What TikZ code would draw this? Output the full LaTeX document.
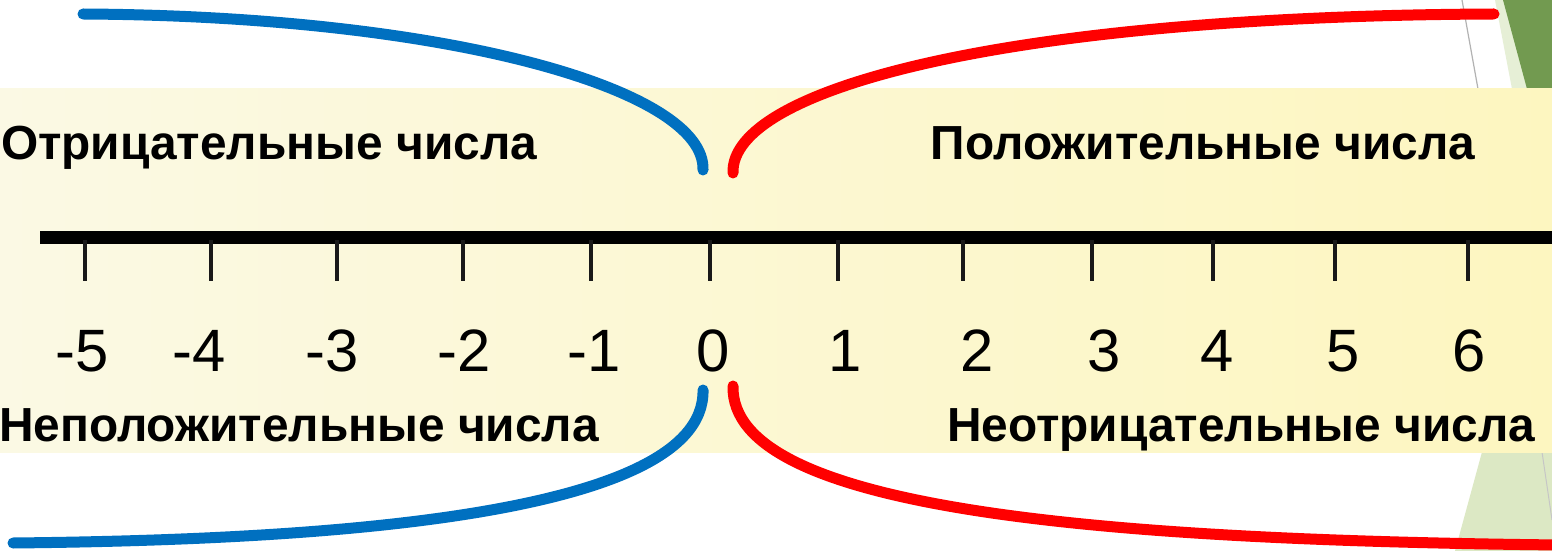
\documentclass[tikz,border=0pt]{standalone}
\usepackage{fontspec}
\setmainfont{Liberation Sans}
\begin{document}
\begin{tikzpicture}[x=1bp,y=-1bp,
  lbl/.style={font=\fontsize{48}{52}\selectfont\bfseries, inner sep=0pt, anchor=base},
  num/.style={font=\fontsize{60}{64}\selectfont, inner sep=0pt, anchor=center},
  tickline/.style={line width=4bp, draw=black!90},
  bluec/.style={draw={rgb,255:red,0;green,112;blue,192}, line width=11bp, line cap=round},
  redc/.style={draw={rgb,255:red,255;green,0;blue,0}, line width=11bp, line cap=round}]
\definecolor{panelL}{RGB}{251,249,228}
\definecolor{panelR}{RGB}{253,246,192}
\definecolor{dgreen}{RGB}{114,154,80}
\definecolor{lgreen}{RGB}{230,239,214}
\definecolor{lgreenb}{RGB}{220,232,196}
\useasboundingbox (0,0) rectangle (1552,551);
\fill[white] (0,0) rectangle (1552,551);
% green decorations
\fill[lgreen] (1495,0) -- (1552,0) -- (1552,89) -- (1512,89) -- cycle;
\fill[dgreen] (1503,0) -- (1552,0) -- (1552,89) -- (1527,89) -- cycle;
\draw[gray!60, line width=1.2bp] (1462,0) -- (1478,89);
\fill[lgreenb] (1482,452) -- (1552,452) -- (1552,551) -- (1455,551) -- cycle;
\draw[gray!45, line width=1bp] (1542,452) -- (1552,520);
% panel
\shade[left color=panelL, right color=panelR] (0,89) rectangle (1552,452);
% number line
\coordinate (ls) at (40,238);
\coordinate (le) at (1552,238);
\draw[line width=13bp, black] (ls) -- (le);
\foreach \t/\d/\lab [count=\i] in {85/92/{\llap{-}5},211/209/{\llap{-}4},337/342/{\llap{-}3},463/474/{\llap{-}2},591/604/{\llap{-}1},710/713/0,838/845/1,963/977/2,1092/1104/3,1213/1217/4,1335/1343/5,1468/1469/6}{
  \draw[tickline] (\t,240) -- (\t,281);
  \node[num] (n\i) at (\d,351) {\lab};
}
% labels
\node[lbl] (neg) at (269,160) {Отрицательные числа};
\node[lbl] (pos) at (1203,160) {Положительные числа};
\node[lbl] (nonpos) at (299,441) {Неположительные числа};
\node[lbl] (nonneg) at (1241,441) {Неотрицательные числа};
% curves
\coordinate (bt0) at (83,14);
\coordinate (bt1) at (703,170);
\coordinate (rt0) at (733,173);
\coordinate (rt1) at (1494,14);
\coordinate (bb0) at (703,390);
\coordinate (bb1) at (13,543);
\coordinate (rb0) at (733,386);
\coordinate (rb1) at (1560,545);
\draw[bluec] (bt0) .. controls (450,16) and (706,90) .. (bt1);
\draw[redc] (rt0) .. controls (730,90) and (1000,16) .. (rt1);
\draw[bluec] (bb0) .. controls (706,520) and (300,540) .. (bb1);
\draw[redc] (rb0) .. controls (730,510) and (1100,540) .. (rb1);
\end{tikzpicture}
\end{document}
